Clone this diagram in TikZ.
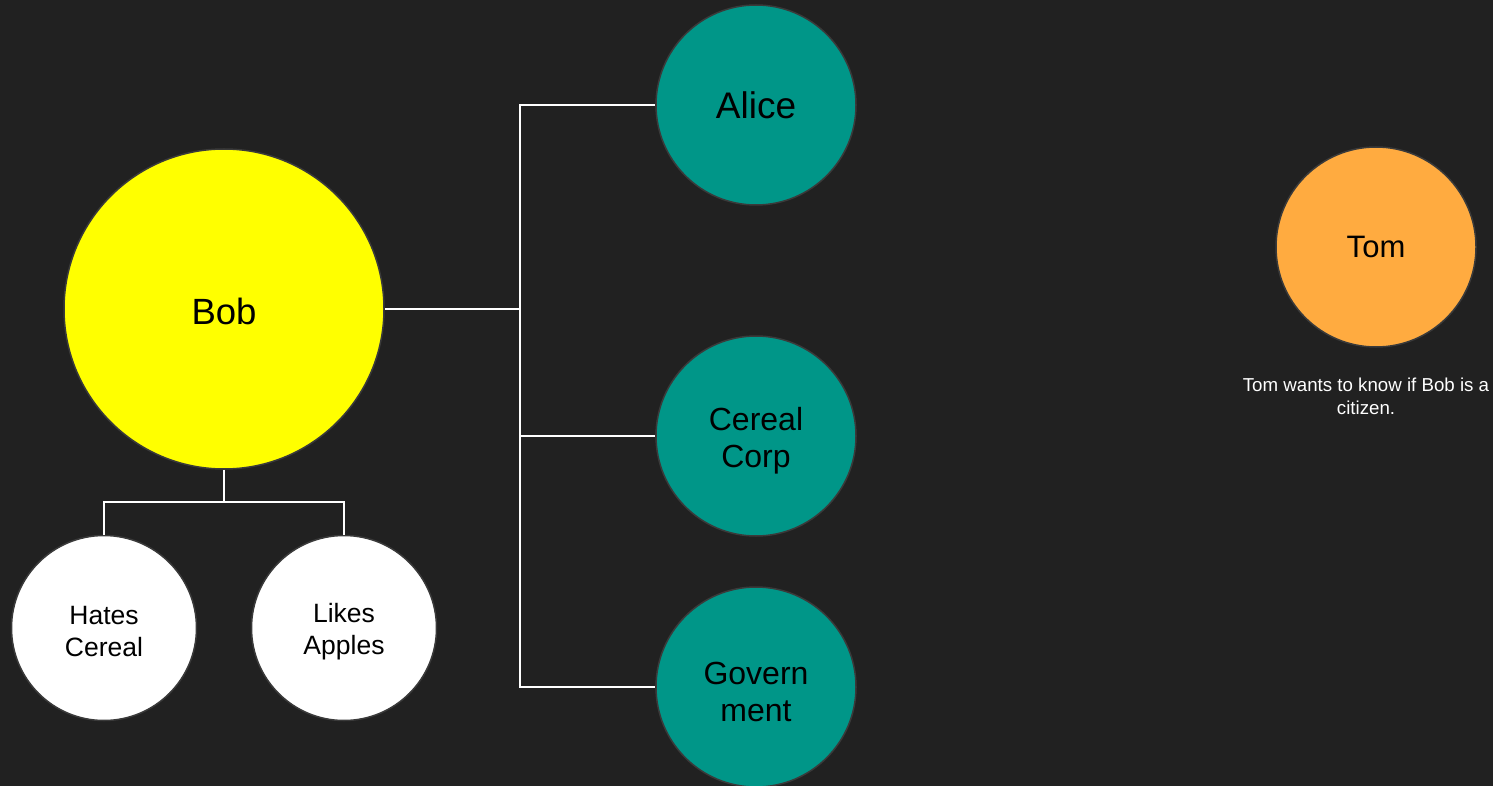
\documentclass[tikz,border=0pt]{standalone}
\usepackage{fontspec}
\setmainfont{Liberation Sans}
\definecolor{bg}{HTML}{212121}
\definecolor{teal}{HTML}{009688}
\definecolor{orng}{HTML}{FFAB40}
\definecolor{yel}{HTML}{FFFF00}
\definecolor{ring}{HTML}{3A3A3A}
\begin{document}
\begin{tikzpicture}[x=1pt,y=-1pt,
  circ/.style={circle,draw=ring,line width=1.5pt,inner sep=0pt,align=center,text=black},
  lbl/.style={align=center,text=black,inner sep=0pt},
  big/.style={font=\fontsize{32}{37}\selectfont},
  small/.style={font=\fontsize{26.5}{32}\selectfont},
  wire/.style={draw=white,line width=2pt}]
\fill[bg] (0,0) rectangle (1493,786);
\useasboundingbox (0,0) rectangle (1493,786);
\node[circ,fill=yel,minimum size=320pt,label={[lbl,font=\fontsize{36.5}{42}\selectfont,yshift=-2pt]center:Bob}] (bob) at (224,309) {};
\node[circ,fill=teal,minimum size=200pt,font=\fontsize{37}{42}\selectfont] (alice) at (756,105) {Alice};
\node[circ,fill=teal,minimum size=200pt,label={[lbl,big,yshift=-5pt]center:{Cereal\\Corp}}] (cereal) at (756,436) {};
\node[circ,fill=teal,minimum size=200pt,label={[lbl,big,yshift=-5pt]center:{Govern\\ment}}] (gov) at (756,687) {};
\node[circ,fill=orng,minimum size=200pt,font=\fontsize{31}{36}\selectfont] (tom) at (1376,247) {Tom};
\node[circ,fill=white,minimum size=185pt,label={[lbl,small,yshift=-4pt]center:{Hates\\Cereal}}] (hates) at (104,628) {};
\node[circ,fill=white,minimum size=185pt,label={[lbl,small,yshift=-4pt]center:{Likes\\Apples}}] (likes) at (344,628) {};
\node[text=white,align=center,font=\fontsize{18.7}{23}\selectfont,inner sep=0pt] (note) at (1366,396) {Tom wants to know if Bob is a\\citizen.};
\coordinate (j) at (520,309);
\coordinate (jb) at (224,502);
\draw[wire] (bob.east) -- (j);
\draw[wire] (j) |- (alice.west);
\draw[wire] (j) |- (cereal.west);
\draw[wire] (j) |- (gov.west);
\draw[wire] (bob.south) -- (jb);
\draw[wire] (jb) -| (hates.north);
\draw[wire] (jb) -| (likes.north);
\end{tikzpicture}
\end{document}
